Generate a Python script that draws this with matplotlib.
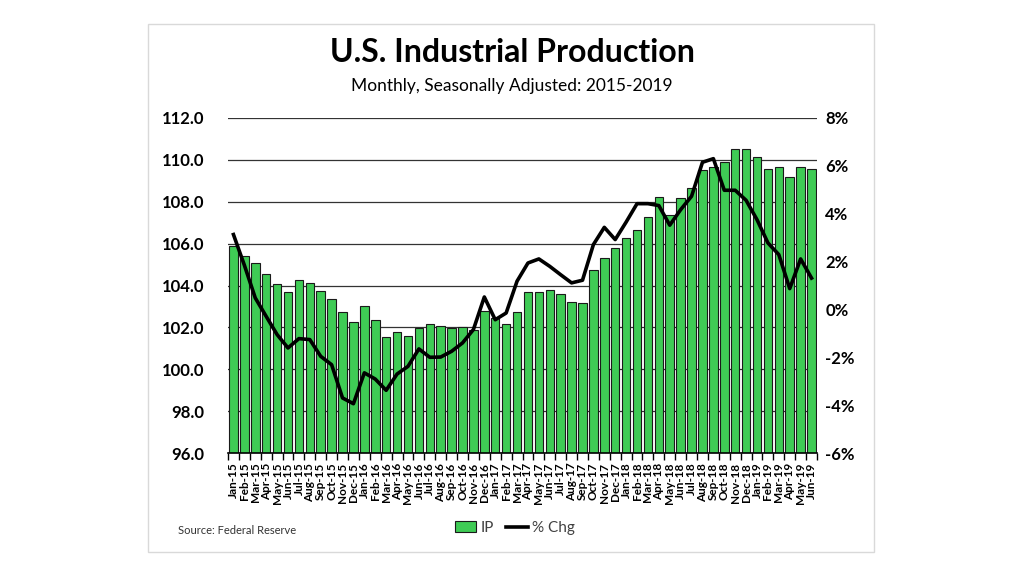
import numpy as np
import matplotlib.pyplot as plt
from matplotlib.patches import Rectangle
from matplotlib.lines import Line2D
from matplotlib.patches import Patch

plt.rcParams['font.family'] = ['Lato', 'DejaVu Sans']

months = ['Jan', 'Feb', 'Mar', 'Apr', 'May', 'Jun', 'Jul', 'Aug', 'Sep', 'Oct', 'Nov', 'Dec']
labels = [m + '-' + str(y) for y in range(15, 20) for m in months][:54]

ip = [105.90, 105.42, 105.07, 104.56, 104.09, 103.69, 104.25, 104.13, 103.74, 103.37,
      102.73, 102.27, 103.00, 102.35, 101.52, 101.76, 101.60, 101.97, 102.14, 102.06,
      101.95, 102.03, 101.86, 102.78, 102.45, 102.16, 102.73, 103.70, 103.70, 103.78,
      103.61, 103.21, 103.18, 104.75, 105.30, 105.77, 106.27, 106.65, 107.27, 108.21,
      107.37, 108.16, 108.66, 109.50, 109.68, 109.90, 110.52, 110.54, 110.12, 109.58,
      109.68, 109.18, 109.64, 109.58]

pct_chg = [3.13, 1.85, 0.48, -0.29, -1.05, -1.61, -1.22, -1.26, -1.96, -2.31,
           -3.70, -3.94, -2.65, -2.91, -3.38, -2.70, -2.38, -1.65, -2.00, -1.99,
           -1.75, -1.40, -0.84, 0.52, -0.43, -0.15, 1.18, 1.94, 2.11, 1.80,
           1.45, 1.11, 1.22, 2.71, 3.43, 2.92, 3.65, 4.42, 4.42, 4.34,
           3.52, 4.17, 4.73, 6.15, 6.30, 4.98, 4.98, 4.56, 3.75, 2.78,
           2.29, 0.87, 2.11, 1.31]

green = '#3fcb55'

fig = plt.figure(figsize=(10.24, 5.76), dpi=100)
fig.patches.append(Rectangle((148 / 1024, 1 - 552 / 576), 726 / 1024, 528 / 576,
                             transform=fig.transFigure, fill=False,
                             edgecolor='#d9d9d9', linewidth=1))

ax = fig.add_axes([228 / 1024, 1 - 453 / 576, 589 / 1024, 335 / 576])
x = np.arange(len(ip))
ax.bar(x, ip, width=0.78, color=green, edgecolor='#1a1a1a', linewidth=0.8, zorder=2)
ax.set_ylim(96, 112)
ax.set_xlim(-0.5, len(ip) - 0.5)
ax.set_yticks(np.arange(96, 113, 2))
ax.set_yticklabels([f'{v:.1f}' for v in np.arange(96, 113, 2)], fontsize=12, fontweight='bold')
ax.yaxis.grid(True, color='#333333', linewidth=0.9, zorder=0)
ax.set_axisbelow(True)
ax.tick_params(axis='y', length=0, pad=17)
for s in ['top', 'left', 'right']:
    ax.spines[s].set_visible(False)
ax.spines['bottom'].set_color('black')
ax.spines['bottom'].set_linewidth(1.2)
ax.set_xticks(x)
ax.set_xticklabels(labels, rotation=90, fontsize=8.5, fontweight='bold')
ax.set_xticks(np.arange(-0.5, len(ip), 1), minor=True)
ax.tick_params(axis='x', which='major', length=0, pad=7)
ax.tick_params(axis='x', which='minor', length=5, width=1, color='black')

ax2 = ax.twinx()
ax2.plot(x, pct_chg, color='black', linewidth=2.6, zorder=3)
ax2.set_ylim(-6, 8)
ax2.set_yticks(np.arange(-6, 9, 2))
ax2.set_yticklabels([f'{v}%' for v in range(-6, 9, 2)], fontsize=12, fontweight='bold')
ax2.tick_params(axis='y', length=0, pad=6)
for s in ['top', 'left', 'right', 'bottom']:
    ax2.spines[s].set_visible(False)

fig.text(512 / 1024, 1 - 52 / 576, 'U.S. Industrial Production', ha='center', va='center',
         fontsize=23, fontweight='bold')
fig.text(512 / 1024, 1 - 86 / 576, 'Monthly, Seasonally Adjusted: 2015-2019', ha='center',
         va='center', fontsize=12.5)
fig.text(178 / 1024, 1 - 531 / 576, 'Source: Federal Reserve', ha='left', va='center',
         fontsize=8, color='#333333')

handles = [Patch(facecolor=green, edgecolor='#1a1a1a', linewidth=0.8),
           Line2D([0], [0], color='black', linewidth=2.6)]
fig.legend(handles, ['IP', '% Chg'], loc='center', bbox_to_anchor=(515 / 1024, 1 - 528 / 576),
           ncol=2, frameon=False, fontsize=11, handlelength=1.4, handletextpad=0.3,
           columnspacing=0.8, labelcolor='#404040')

fig.savefig('out.png', dpi=100)
